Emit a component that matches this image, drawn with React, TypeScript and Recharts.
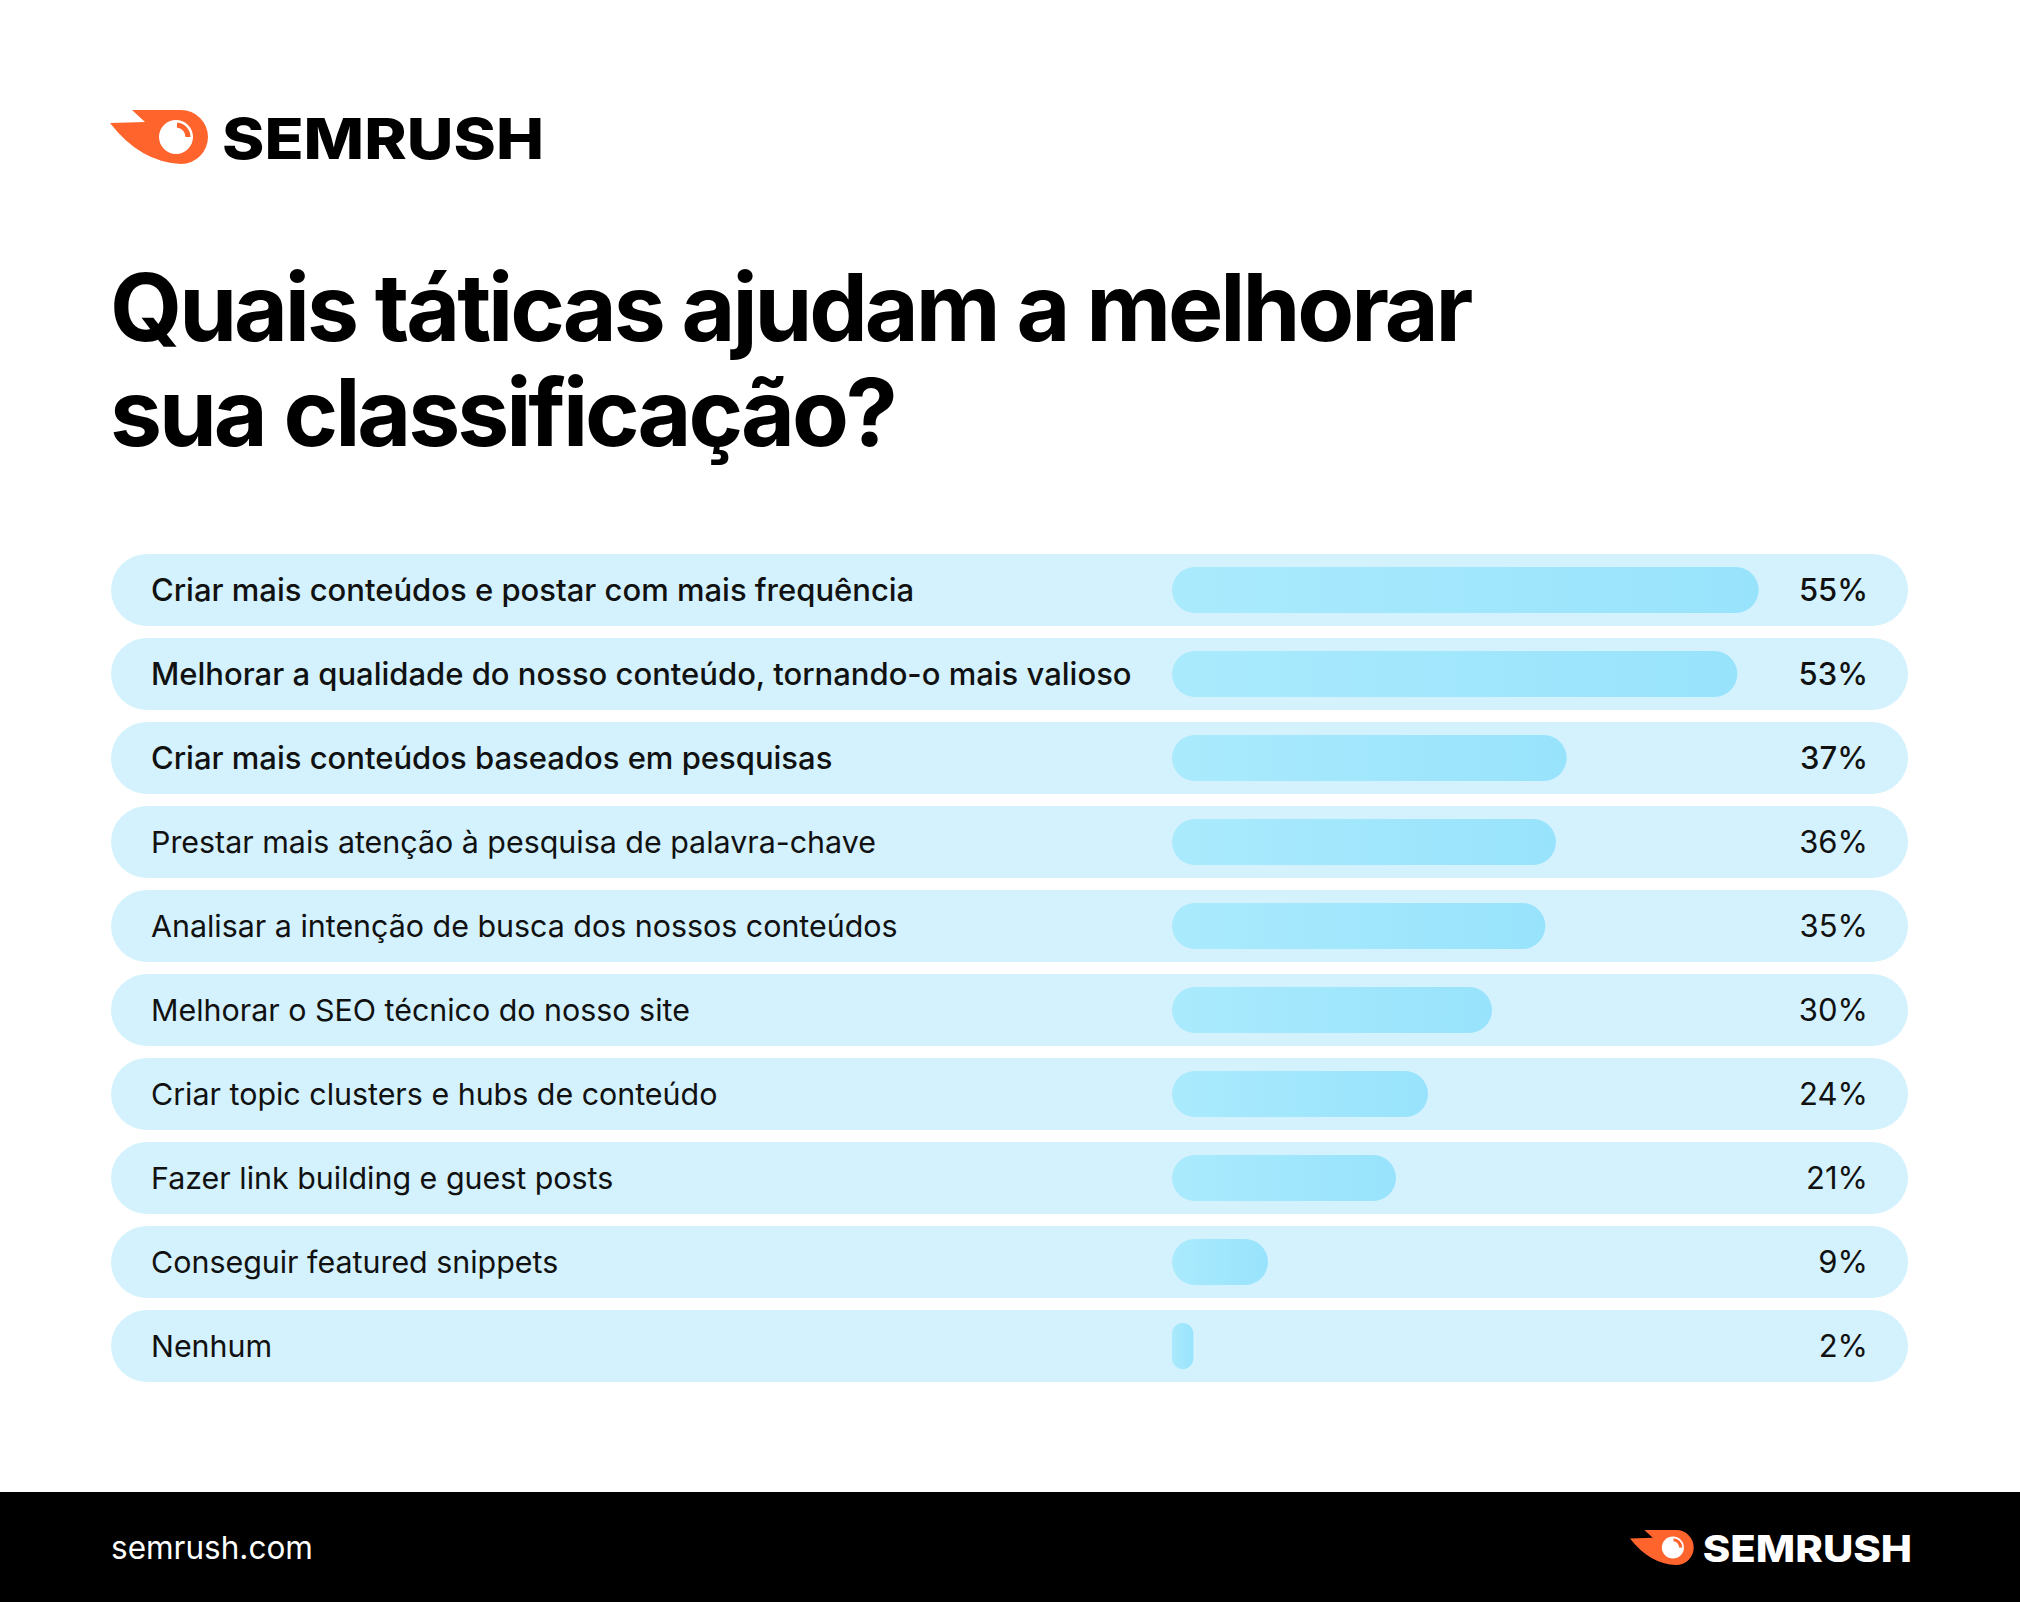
import React from "react";
import { BarChart, Bar, XAxis, YAxis } from "recharts";

const tactics = [
  "Criar mais conteúdos e postar com mais frequência",
  "Melhorar a qualidade do nosso conteúdo, tornando-o mais valioso",
  "Criar mais conteúdos baseados em pesquisas",
  "Prestar mais atenção à pesquisa de palavra-chave",
  "Analisar a intenção de busca dos nossos conteúdos",
  "Melhorar o SEO técnico do nosso site",
  "Criar topic clusters e hubs de conteúdo",
  "Fazer link building e guest posts",
  "Conseguir featured snippets",
  "Nenhum",
];
const shares = [55, 53, 37, 36, 35, 30, 24, 21, 9, 2];
const boldRows = [true, true, true, false, false, false, false, false, false, false];

const data = tactics.map((name, i) => ({
  name,
  share: shares[i],
  pct: `${shares[i]}%`,
}));

const FONT = "Inter, 'Noto Sans', sans-serif";
const ORANGE = "#FF642D";
const ROW_BG = "#D3F2FD";
const ROW_LEFT = 111;
const ROW_RIGHT = 1908;
const ROW_H = 72;

function Logo({ x, y, scale, textColor }: { x: number; y: number; scale: number; textColor: string }) {
  return (
    <svg
      width={440 * scale}
      height={60 * scale}
      viewBox="0 0 440 60"
      style={{ position: "absolute", left: x, top: y, overflow: "visible" }}
    >
      <path d="M 0 13 L 35 12 L 22 0 L 71 0 A 27 27 0 0 1 71 54 Q 30 52 0 13 Z" fill={ORANGE} />
      <circle cx={66} cy={27} r={17} fill="#fff" />
      <path d="M 67 15 A 12 12 0 0 1 78 27" fill="none" stroke={ORANGE} strokeWidth={5} />
      <text
        x={112}
        y={49}
        fontFamily={FONT}
        fontWeight={800}
        fontSize={57}
        fill={textColor}
        textLength={322}
        lengthAdjust="spacingAndGlyphs"
      >
        SEMRUSH
      </text>
    </svg>
  );
}

function RowBackground(props: any) {
  const { y, height } = props;
  const cy = y + height / 2;
  return (
    <rect
      x={ROW_LEFT}
      y={cy - ROW_H / 2}
      width={ROW_RIGHT - ROW_LEFT}
      height={ROW_H}
      rx={ROW_H / 2}
      ry={ROW_H / 2}
      fill={ROW_BG}
    />
  );
}

function NameTick({ y, payload, index }: any) {
  const bold = boldRows[index];
  return (
    <text
      x={151}
      y={y}
      dy={11}
      fontFamily={FONT}
      fontSize={bold ? 31 : 30.4}
      fontWeight={bold ? 500 : 400}
      fill="#111"
      textAnchor="start"
    >
      {payload.value}
    </text>
  );
}

function PctTick({ y, payload, index }: any) {
  return (
    <text
      x={1868}
      y={y}
      dy={11}
      fontFamily={FONT}
      fontSize={31}
      fontWeight={boldRows[index] ? 500 : 400}
      fill="#111"
      textAnchor="end"
    >
      {payload.value}
    </text>
  );
}

export default function App() {
  return (
    <div
      style={{
        position: "absolute",
        left: 0,
        top: 0,
        width: 2020,
        height: 1602,
        background: "#fff",
        overflow: "hidden",
        fontFamily: FONT,
      }}
    >
      <Logo x={110} y={110} scale={1} textColor="#000" />

      <div
        style={{
          position: "absolute",
          left: 110,
          top: 255,
          fontSize: 93,
          lineHeight: "105px",
          fontWeight: 700,
          color: "#000",
          letterSpacing: -3.1,
        }}
      >
        Quais táticas ajudam a melhorar
        <br />
        sua classificação?
      </div>

      <div style={{ position: "absolute", left: 0, top: 548 }}>
        <BarChart
          width={2020}
          height={840}
          data={data}
          layout="vertical"
          margin={{ top: 0, right: 0, bottom: 0, left: 0 }}
        >
          <defs>
            <linearGradient id="barGrad" x1="0" y1="0" x2="1" y2="0">
              <stop offset="0%" stopColor="#AAEAFD" />
              <stop offset="100%" stopColor="#98E3FC" />
            </linearGradient>
          </defs>
          <XAxis type="number" domain={[0, 69]} hide />
          <YAxis
            yAxisId="left"
            type="category"
            dataKey="name"
            width={1172}
            axisLine={false}
            tickLine={false}
            tick={<NameTick />}
            interval={0}
          />
          <YAxis
            yAxisId="right"
            orientation="right"
            type="category"
            dataKey="pct"
            width={112}
            axisLine={false}
            tickLine={false}
            tick={<PctTick />}
            interval={0}
          />
          <Bar
            yAxisId="left"
            dataKey="share"
            barSize={46}
            radius={23}
            fill="url(#barGrad)"
            background={(p: any) => <RowBackground key={`bg-${p.index}`} {...p} />}
            isAnimationActive={false}
          />
        </BarChart>
      </div>

      <div
        style={{
          position: "absolute",
          left: 0,
          top: 1492,
          width: 2020,
          height: 110,
          background: "#000",
        }}
      >
        <div
          style={{
            position: "absolute",
            left: 111,
            top: 36,
            fontSize: 31.5,
            lineHeight: "40px",
            color: "#fff",
            fontWeight: 400,
          }}
        >
          semrush.com
        </div>
      </div>
      <Logo x={1630} y={1530} scale={0.65} textColor="#fff" />
    </div>
  );
}
